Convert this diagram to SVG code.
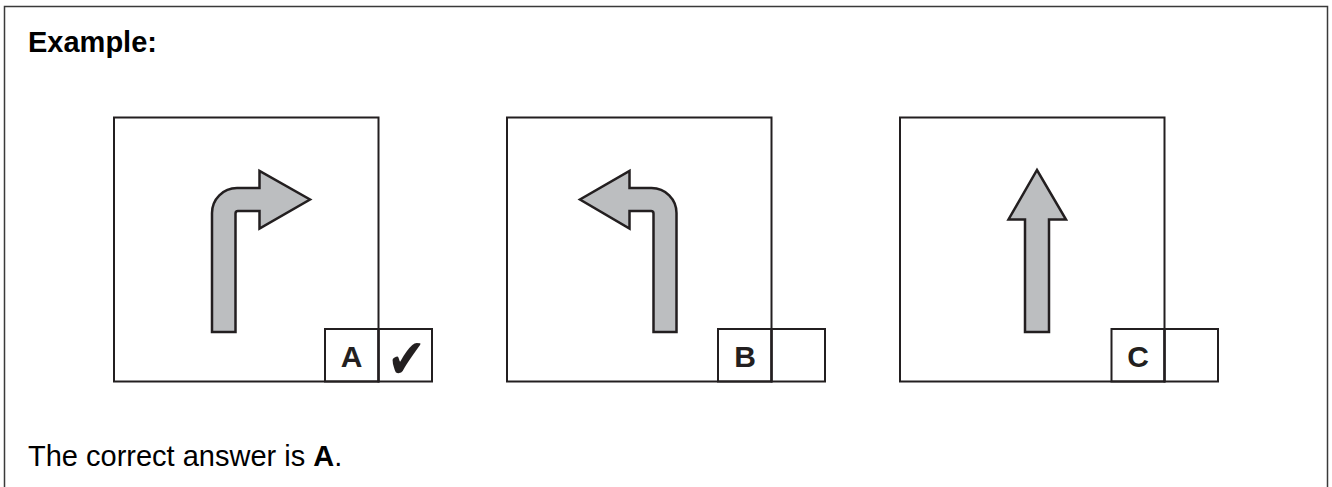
<svg xmlns="http://www.w3.org/2000/svg" width="1332" height="487" viewBox="0 0 1332 487">
<style>
.frame{fill:none;stroke:#3a3a3a;stroke-width:1.5}
.box{fill:none;stroke:#231f20;stroke-width:2}
.arrow{fill:#bcbec0;stroke:#231f20;stroke-width:2.5;stroke-linejoin:miter}
.txt{font-family:"Liberation Sans",Arial,sans-serif;font-size:29px;fill:#000}
.b{font-weight:bold}
.lbl{font-family:"Liberation Sans",Arial,sans-serif;font-size:30px;font-weight:bold;fill:#231f20;text-anchor:middle}
.tick{font-family:"DejaVu Sans",sans-serif;font-size:46px;fill:#231f20;text-anchor:middle}
</style>
<rect width="1332" height="487" fill="#fff"/>
<rect class="frame" x="4.5" y="6.5" width="1323" height="520"/>
<text class="txt b" x="28" y="52">Example:</text>

<g id="optionA">
<rect class="box" x="114" y="117.5" width="264.5" height="264"/>
<path class="arrow" d="M212,332 L212,213 A25,25 0 0 1 237,188 L259.5,188 L259.5,171 L310,199.5 L259.5,228.5 L259.5,211 L238,211 Q235.5,211 235.5,213.5 L235.5,332 Z"/>
<rect class="box" x="325" y="329" width="53.5" height="52.5"/>
<rect class="box" x="378.5" y="329" width="53.5" height="52.5"/>
<text class="lbl" x="351.5" y="366.5">A</text>
<text class="tick" transform="translate(406.5,377.5) scale(1,1.2)">✔</text>
</g>

<g id="optionB">
<rect class="box" x="507" y="117.5" width="264.5" height="264"/>
<path class="arrow" d="M676.5,332 L676.5,213 A25,25 0 0 0 651.5,188 L629.5,188 L629.5,171 L580,199.5 L629.5,228.5 L629.5,211 L651,211 Q653.5,211 653.5,213.5 L653.5,332 Z"/>
<rect class="box" x="718" y="329" width="53.5" height="52.5"/>
<rect class="box" x="771.5" y="329" width="53.5" height="52.5"/>
<text class="lbl" x="745" y="366.5">B</text>
</g>

<g id="optionC">
<rect class="box" x="900" y="117.5" width="264.5" height="264"/>
<path class="arrow" d="M1025,332 L1025,219.5 L1008.5,219.5 L1037,170 L1066,219.5 L1049,219.5 L1049,332 Z"/>
<rect class="box" x="1111.5" y="329" width="53" height="52.5"/>
<rect class="box" x="1164.5" y="329" width="53.5" height="52.5"/>
<text class="lbl" x="1138" y="366.5">C</text>
</g>

<text class="txt" x="28" y="466">The correct answer is <tspan class="b">A</tspan>.</text>
</svg>
